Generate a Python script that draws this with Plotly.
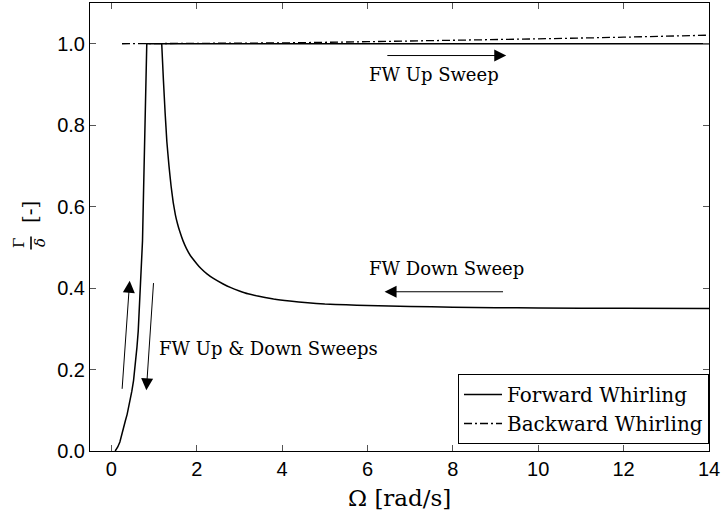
import plotly.graph_objects as go

# Forward whirling, up sweep: rise through resonance then locked at 1.0
fw_up_x = [0.09, 0.15, 0.20, 0.25, 0.29, 0.33, 0.37, 0.41, 0.44, 0.48, 0.52, 0.56, 0.60,
           0.63, 0.65, 0.67, 0.69, 0.71, 0.73, 0.755, 0.78, 0.805, 0.83,
           2.0, 4.0, 6.0, 8.0, 10.0, 12.0, 14.0]
fw_up_y = [0.0, 0.01, 0.022, 0.04, 0.059, 0.075, 0.09, 0.108, 0.124, 0.147, 0.173, 0.21,
           0.255, 0.295, 0.337, 0.378, 0.418, 0.466, 0.516, 0.64, 0.76, 0.88, 1.0,
           1.0, 1.0, 1.0, 1.0, 1.0, 1.0, 1.0]

# Forward whirling, down sweep: from high speed back to the jump near 1.2 rad/s
fw_down_x = [14.0, 12.0, 10.0, 9.0, 8.0, 7.0, 6.0, 5.5, 5.0, 4.6, 4.18, 3.8, 3.4, 3.2,
             3.0, 2.8, 2.62, 2.4, 2.24, 2.1, 2.0, 1.85, 1.76, 1.68, 1.6, 1.55, 1.5,
             1.45, 1.4, 1.35, 1.3, 1.28, 1.26, 1.24, 1.22, 1.2, 1.18]
fw_down_y = [0.350, 0.3505, 0.351, 0.352, 0.353, 0.355, 0.357, 0.359, 0.361, 0.364, 0.368,
             0.373, 0.381, 0.386, 0.393, 0.401, 0.41, 0.423, 0.435, 0.448, 0.46, 0.48,
             0.497, 0.516, 0.54, 0.558, 0.58, 0.61, 0.65, 0.70, 0.76, 0.795, 0.83, 0.87,
             0.91, 0.955, 1.0]

# Backward whirling
bw_x = [0.25, 2.0, 4.0, 6.0, 8.0, 10.0, 12.0, 14.0]
bw_y = [1.0, 1.0005, 1.002, 1.005, 1.008, 1.012, 1.016, 1.021]

x_ticks = [0, 2, 4, 6, 8, 10, 12, 14]
y_ticks = [0.0, 0.2, 0.4, 0.6, 0.8, 1.0]

SERIF = "DejaVu Serif"
SANS = "Liberation Sans"

fig = go.Figure()
fig.add_trace(go.Scatter(x=fw_up_x, y=fw_up_y, mode="lines", name="Forward Whirling",
                         legendgroup="fw", line=dict(color="black", width=1.5)))
fig.add_trace(go.Scatter(x=fw_down_x, y=fw_down_y, mode="lines", name="Forward Whirling",
                         legendgroup="fw", showlegend=False,
                         line=dict(color="black", width=1.5, shape="spline", smoothing=0.3)))
fig.add_trace(go.Scatter(x=bw_x, y=bw_y, mode="lines", name="Backward Whirling",
                         line=dict(color="black", width=1.3, dash="8px,3px,2px,3px")))

L, R, T, B = 90, 15, 3, 64
W, H = 724, 515
pw, ph = W - L - R, H - T - B


def px_x(px):
    return (px - L) / pw


def px_y(py):
    return (H - B - py) / ph


annots = []
# sweep labels
annots.append(dict(x=6.0, y=0.925, text="FW Up Sweep", xanchor="left", yanchor="middle",
                   showarrow=False, font=dict(family=SERIF, size=18, color="black")))
annots.append(dict(x=6.0, y=0.447, text="FW Down Sweep", xanchor="left", yanchor="middle",
                   showarrow=False, font=dict(family=SERIF, size=18, color="black")))
annots.append(dict(x=1.07, y=0.251, text="FW Up &amp; Down Sweeps", xanchor="left",
                   yanchor="middle", showarrow=False,
                   font=dict(family=SERIF, size=18, color="black")))
# sweep direction arrows (head, tail)
arrows = [((9.25, 0.971), (6.43, 0.971)),
          ((6.40, 0.391), (9.21, 0.391)),
          ((0.43, 0.418), (0.25, 0.149)),
          ((0.82, 0.149), (0.99, 0.416))]
for (hx, hy), (tx, ty) in arrows:
    annots.append(dict(x=hx, y=hy, ax=tx, ay=ty, xref="x", yref="y", axref="x", ayref="y",
                       text="", showarrow=True, arrowhead=2, arrowsize=2.4, arrowwidth=1,
                       arrowcolor="black", standoff=0, startstandoff=0))
# x-axis title
annots.append(dict(x=0.5, y=px_y(497.5), xref="paper", yref="paper", text="Ω [rad/s]",
                   showarrow=False, xanchor="center", yanchor="middle",
                   font=dict(family=SERIF, size=23, color="black")))
# y-axis label: fraction Gamma over delta, then [-]
annots.append(dict(x=px_x(19), y=px_y(243), xref="paper", yref="paper", text="Γ",
                   textangle=-90, showarrow=False, xanchor="center", yanchor="middle",
                   font=dict(family=SERIF, size=15, color="black")))
annots.append(dict(x=px_x(40), y=px_y(243), xref="paper", yref="paper", text="<i>δ</i>",
                   textangle=-90, showarrow=False, xanchor="center", yanchor="middle",
                   font=dict(family=SERIF, size=15, color="black")))
annots.append(dict(x=px_x(30), y=px_y(212), xref="paper", yref="paper", text="[-]",
                   textangle=-90, showarrow=False, xanchor="center", yanchor="middle",
                   font=dict(family=SERIF, size=20, color="black")))

shapes = [dict(type="line", xref="paper", yref="paper", x0=px_x(31), x1=px_x(31),
               y0=px_y(236.5), y1=px_y(249.5), line=dict(color="black", width=1.6))]

axis_common = dict(showline=True, linecolor="black", linewidth=1, mirror="ticks",
                   ticks="inside", ticklen=6, tickcolor="#555", tickwidth=1,
                   showgrid=False, zeroline=False,
                   tickfont=dict(family=SANS, size=20, color="black"))

fig.update_layout(
    width=W, height=H,
    margin=dict(l=L, r=R, t=T, b=B, autoexpand=False),
    paper_bgcolor="white", plot_bgcolor="white",
    xaxis=dict(range=[-0.5, 14], tickvals=x_ticks, ticktext=[str(v) for v in x_ticks],
               **axis_common),
    yaxis=dict(range=[0, 1.1], tickvals=y_ticks, ticktext=[f"{v:.1f}" for v in y_ticks],
               **axis_common),
    legend=dict(x=1, y=px_y(444), xanchor="right", yanchor="bottom", bgcolor="white",
                bordercolor="black", borderwidth=1,
                font=dict(family=SERIF, size=20, color="black"), tracegroupgap=0,
                itemwidth=38),
    annotations=annots,
    shapes=shapes,
    showlegend=True,
)

fig.write_html("out.html")
